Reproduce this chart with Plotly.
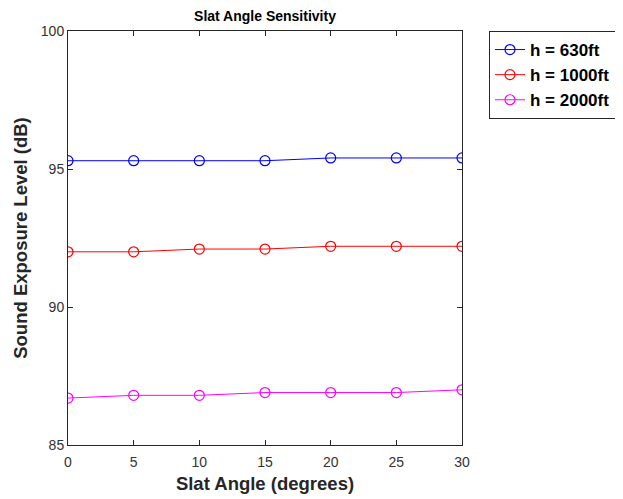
import plotly.graph_objects as go

slat_angle = [0, 5, 10, 15, 20, 25, 30]
sel_630 = [95.3, 95.3, 95.3, 95.3, 95.4, 95.4, 95.4]
sel_1000 = [92.0, 92.0, 92.1, 92.1, 92.2, 92.2, 92.2]
sel_2000 = [86.7, 86.8, 86.8, 86.9, 86.9, 86.9, 87.0]
series_names = ["h = 630ft", "h = 1000ft", "h = 2000ft"]
colors = ["#0000ff", "#ff0000", "#ff00ff"]

FONT = "Liberation Sans, Arial, Helvetica, sans-serif"

fig = go.Figure()
for name, vals, c in zip(series_names, [sel_630, sel_1000, sel_2000], colors):
    fig.add_trace(go.Scatter(
        x=slat_angle, y=vals, name="<b>" + name + "</b>", mode="lines+markers",
        line=dict(color=c, width=1),
        marker=dict(symbol="circle-open", size=10, color=c, line=dict(width=1.2, color=c)),
    ))

axis_common = dict(
    showgrid=False, zeroline=False, showline=True, linecolor="#262626", linewidth=1,
    mirror="ticks", ticks="inside", ticklen=5, tickcolor="#262626",
    tickfont=dict(family=FONT, size=14, color="#333333"),
)

# page body adds an 8px offset, so the figure is sized to fit the 623x499 window
W, H = 615, 491
L, R, T, B = 60, 161, 23, 54

fig.update_layout(
    width=W, height=H,
    margin=dict(l=L, r=R, t=T, b=B, autoexpand=False),
    paper_bgcolor="white", plot_bgcolor="white",
    font=dict(family=FONT, color="black"),
    title=dict(text="<b>Slat Angle Sensitivity</b>", x=(L + 197) / W, xanchor="center",
               y=1 - 8 / H, yanchor="middle", font=dict(size=14, color="black")),
    xaxis=dict(range=[0, 30], tickvals=slat_angle, ticklabelstandoff=4,
               title=dict(text="<b>Slat Angle (degrees)</b>", font=dict(size=18.5, color="#262626"), standoff=8),
               **axis_common),
    yaxis=dict(range=[85, 100], tickvals=[85, 90, 95, 100],
               title=dict(text="<b>Sound Exposure Level (dB)</b>", font=dict(size=18.5, color="#262626"), standoff=8),
               **axis_common),
    legend=dict(x=(481 - L) / 394, y=1, xanchor="left", yanchor="top",
                bordercolor="#262626", borderwidth=1, bgcolor="white",
                font=dict(size=17, color="black", family=FONT),
                itemwidth=30),
    showlegend=True,
)

fig.write_html("out.html")
